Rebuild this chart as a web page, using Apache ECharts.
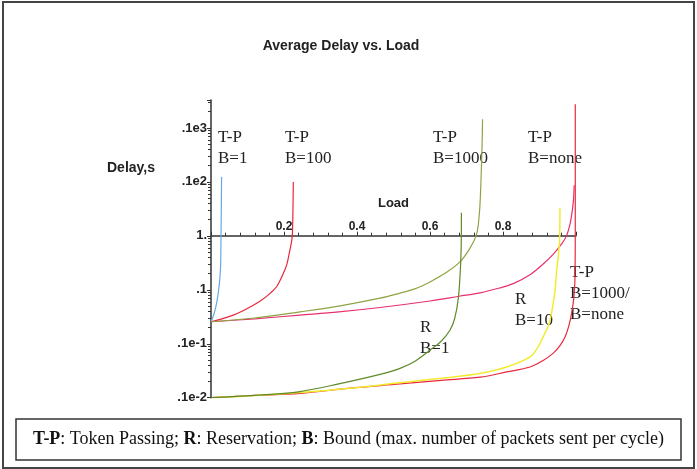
<!DOCTYPE html>
<html lang="en">
<head>
<meta charset="UTF-8" />
<title>Average Delay vs. Load</title>
<script src="https://cdn.jsdelivr.net/npm/echarts@6/dist/echarts.min.js"></script>
<style>
  html, body { margin: 0; padding: 0; background: #fff; }
  #chart { width: 697px; height: 469px; }
</style>
</head>
<body>
<div id="chart"></div>
<script>
// [load, delay (s)], delay on a log scale
const tpB1 = [[0, 0.0256], [0.006, 0.032], [0.011, 0.042], [0.016, 0.06], [0.021, 0.1], [0.0245, 0.17], [0.0265, 0.31], [0.0274, 0.96], [0.0282, 3], [0.029, 12.4]];
const tpB100 = [[0, 0.0256], [0.03, 0.029], [0.061, 0.034], [0.085, 0.04], [0.107, 0.048], [0.135, 0.062], [0.162, 0.086], [0.18, 0.115], [0.198, 0.2], [0.208, 0.3], [0.216, 0.54], [0.221, 0.8], [0.223, 1.1], [0.2245, 3], [0.2255, 10]];
const tpB1000 = [[0, 0.0256], [0.12, 0.03], [0.244, 0.039], [0.35, 0.05], [0.463, 0.07], [0.518, 0.087], [0.56, 0.105], [0.6, 0.14], [0.64, 0.2], [0.682, 0.33], [0.71, 0.6], [0.728, 1.1], [0.735, 2.5], [0.738, 5.3], [0.741, 20], [0.743, 60], [0.744, 145]];
const tpNone = [[0, 0.0256], [0.12, 0.029], [0.244, 0.034], [0.35, 0.039], [0.463, 0.047], [0.6, 0.062], [0.68, 0.076], [0.737, 0.088], [0.79, 0.108], [0.828, 0.13], [0.874, 0.19], [0.91, 0.3], [0.938, 0.46], [0.96, 0.7], [0.974, 1], [0.984, 1.7], [0.99, 3], [0.993, 4.6], [0.995, 8.7]];
const rB1 = [[0, 0.001], [0.12, 0.0011], [0.244, 0.0013], [0.35, 0.0018], [0.463, 0.0027], [0.518, 0.0035], [0.56, 0.0048], [0.6, 0.0076], [0.63, 0.011], [0.655, 0.018], [0.668, 0.03], [0.678, 0.074], [0.684, 0.31], [0.686, 1.3], [0.686, 2.67]];
const rB10 = [[0, 0.001], [0.12, 0.0011], [0.244, 0.00125], [0.38, 0.0015], [0.518, 0.0019], [0.63, 0.0023], [0.737, 0.0028], [0.81, 0.0037], [0.874, 0.0057], [0.895, 0.0085], [0.91, 0.0134], [0.925, 0.022], [0.933, 0.037], [0.942, 0.09], [0.947, 0.23], [0.952, 0.45], [0.955, 0.83], [0.956, 3.3]];
const tpLow = [[0, 0.001], [0.12, 0.0011], [0.244, 0.0012], [0.38, 0.0015], [0.518, 0.0018], [0.63, 0.0021], [0.737, 0.0024], [0.81, 0.003], [0.874, 0.0037], [0.91, 0.0049], [0.938, 0.0067], [0.955, 0.009], [0.97, 0.0134], [0.98, 0.021], [0.988, 0.037], [0.994, 0.07], [0.997, 0.15], [0.998, 1.3], [0.998, 275]];

// Maple style tick labels
const yTickText = { 100: ".1e3", 10: ".1e2", 1: "1.", 0.1: ".1", 0.01: ".1e-1", 0.001: ".1e-2" };
const xTickText = ["0.2", "0.4", "0.6", "0.8"];

const sans = '"Liberation Sans", Arial, sans-serif';
const serif = '"Liberation Serif", "DejaVu Serif", serif';

const chart = echarts.init(document.getElementById("chart"));

function curve(name, data, color, width) {
  return {
    name: name,
    type: "line",
    data: data,
    showSymbol: false,
    smooth: 0.35,
    lineStyle: { color: color, width: width || 1.2 },
    silent: true,
  };
}

function note(x, y, text) {
  return {
    type: "text",
    x: x,
    y: y,
    style: {
      text: text,
      font: "17px " + serif,
      lineHeight: 21,
      fill: "#222",
      textVerticalAlign: "top",
    },
  };
}

const option = {
  animation: false,
  grid: { left: 211, right: 121, top: 100, bottom: 71.3 },
  xAxis: {
    type: "value",
    min: 0,
    max: 1,
    interval: 0.2,
    position: "top",
    offset: -135.7,
    name: "Load",
    nameLocation: "middle",
    nameGap: 26,
    nameTextStyle: { fontFamily: sans, fontWeight: "bold", fontSize: 13, color: "#222" },
    axisLine: { lineStyle: { color: "#333", width: 1.5 } },
    axisTick: { length: 4, lineStyle: { color: "#333" } },
    minorTick: { show: true, splitNumber: 5, length: 3, lineStyle: { color: "#333" } },
    axisLabel: {
      margin: 3,
      fontFamily: sans,
      fontWeight: "bold",
      fontSize: 12,
      color: "#222",
      formatter: (v) => (xTickText.includes(v.toFixed(1)) ? v.toFixed(1) : ""),
    },
    splitLine: { show: false },
  },
  yAxis: {
    type: "log",
    logBase: 10,
    min: 0.001,
    max: 330,
    axisLine: { lineStyle: { color: "#333", width: 1.5 } },
    axisTick: { length: 4, lineStyle: { color: "#333" } },
    minorTick: { show: true, splitNumber: 9, length: 3, lineStyle: { color: "#333" } },
    axisLabel: {
      margin: 4,
      fontFamily: sans,
      fontWeight: "bold",
      fontSize: 13,
      color: "#222",
      formatter: (v) => {
        for (const k in yTickText) {
          if (Math.abs(Math.log10(v) - Math.log10(+k)) < 1e-6) return yTickText[k];
        }
        return "";
      },
    },
    splitLine: { show: false },
  },
  series: [
    curve("T-P B=1", tpB1, "#66a8e6"),
    curve("T-P B=100", tpB100, "#e8283c"),
    curve("T-P B=none", tpNone, "#e8306e"),
    curve("T-P B=1000", tpB1000, "#8ea444"),
    curve("T-P B=1000/B=none (low)", tpLow, "#e8283c"),
    curve("R B=10", rB10, "#f2ec30", 1.5),
    curve("R B=1", rB1, "#5f8a2a"),
  ],
  graphic: [
    {
      type: "rect",
      shape: { x: 3, y: 2, width: 691, height: 466 },
      style: { fill: "none", stroke: "#444", lineWidth: 2 },
    },
    {
      type: "text",
      x: 341,
      y: 46,
      style: {
        text: "Average Delay vs. Load",
        font: "bold 14px " + sans,
        fill: "#222",
        textAlign: "center",
        textVerticalAlign: "middle",
      },
    },
    {
      type: "text",
      x: 131,
      y: 168,
      style: {
        text: "Delay,s",
        font: "bold 14px " + sans,
        fill: "#222",
        textAlign: "center",
        textVerticalAlign: "middle",
      },
    },
    note(218, 127.5, "T-P\nB=1"),
    note(285, 127.5, "T-P\nB=100"),
    note(433, 127.5, "T-P\nB=1000"),
    note(528, 127.5, "T-P\nB=none"),
    note(570, 262.5, "T-P\nB=1000/\nB=none"),
    note(515, 289.5, "R\nB=10"),
    note(420, 317.5, "R\nB=1"),
    {
      type: "rect",
      shape: { x: 16, y: 419, width: 665, height: 41 },
      style: { fill: "#fff", stroke: "#333", lineWidth: 1.5 },
    },
    {
      type: "text",
      x: 348.5,
      y: 439.5,
      style: {
        text: "{b|T-P}: Token Passing; {b|R}: Reservation; {b|B}: Bound (max. number of packets sent per cycle)",
        font: "18px " + serif,
        fill: "#111",
        textAlign: "center",
        textVerticalAlign: "middle",
        rich: {
          b: { fontFamily: serif, fontSize: 18, fontWeight: "bold", fill: "#111" },
        },
      },
    },
  ],
};

chart.setOption(option);
</script>
</body>
</html>
